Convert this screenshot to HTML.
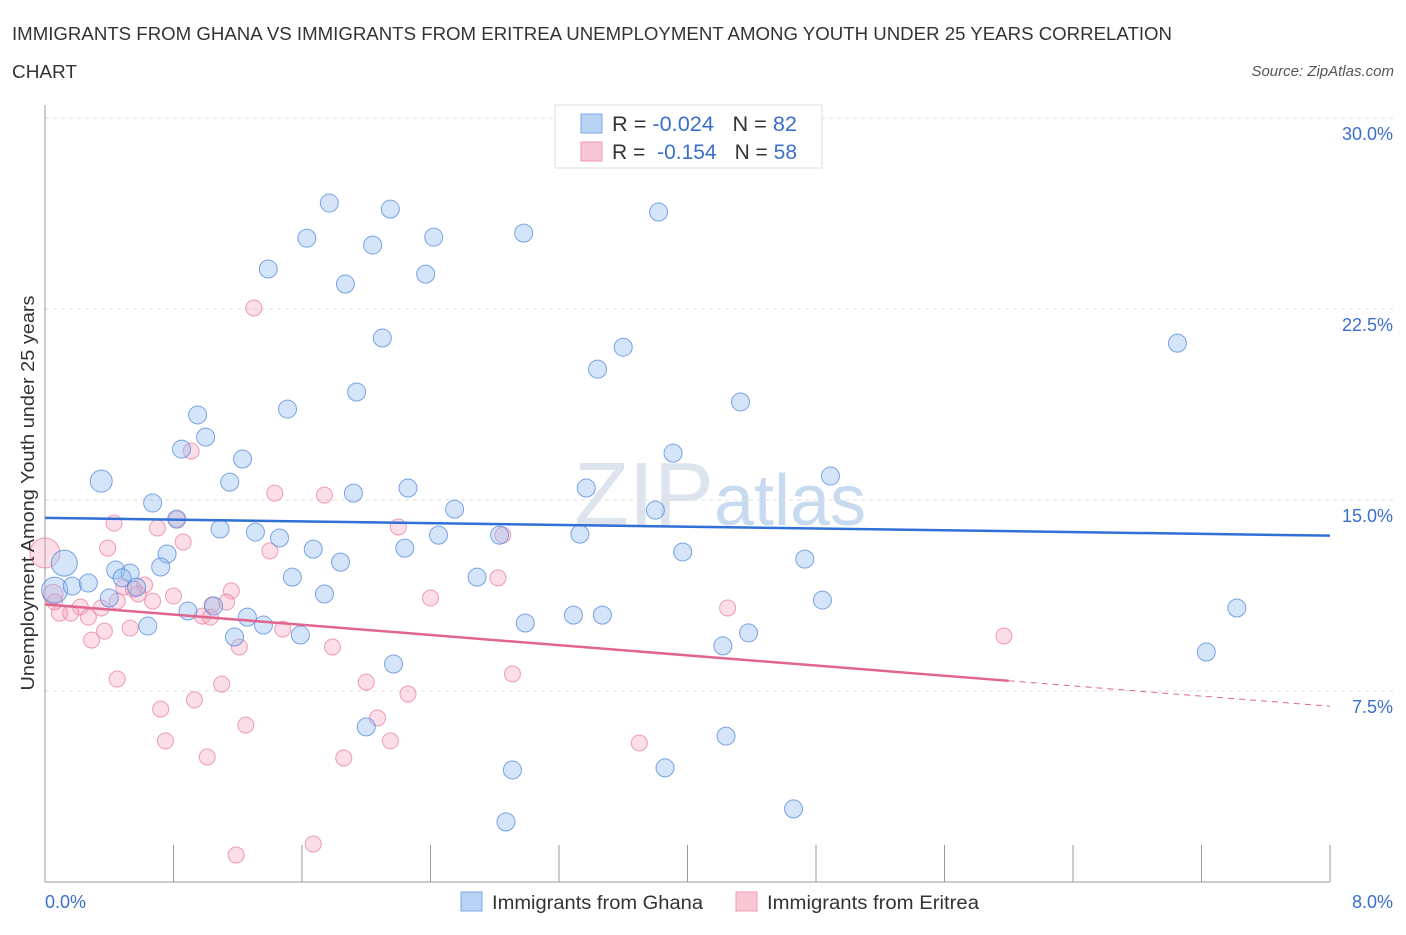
<!DOCTYPE html>
<html><head><meta charset="utf-8"><style>
body{margin:0;background:#fff;font-family:"Liberation Sans",sans-serif;}
svg text{font-family:"Liberation Sans",sans-serif;}
</style></head><body>
<svg id="chart" width="1406" height="930" xmlns="http://www.w3.org/2000/svg">
<text x="12" y="40" font-size="18" fill="#333" textLength="1160" lengthAdjust="spacingAndGlyphs">IMMIGRANTS FROM GHANA VS IMMIGRANTS FROM ERITREA UNEMPLOYMENT AMONG YOUTH UNDER 25 YEARS CORRELATION</text>
<text x="12" y="78" font-size="18" fill="#333" textLength="65" lengthAdjust="spacingAndGlyphs">CHART</text>
<text x="1394" y="76" font-size="15" fill="#555" font-style="italic" text-anchor="end">Source: ZipAtlas.com</text>
<text x="720" y="525" font-size="90" fill="#dde4ee" text-anchor="middle" font-family="Liberation Serif">ZIP<tspan fill="#c8daf0" font-family="Liberation Sans" font-size="72">atlas</tspan></text>
<g id="grid"></g>
<g id="axes"></g>
<g id="marks"></g>
<g>
<rect x="555" y="105" width="267" height="63" fill="#fff" stroke="#ddd"/>
<rect x="581" y="114" width="21" height="19" fill="#b9d3f5" stroke="#7aa7e6"/>
<rect x="581" y="142" width="21" height="19" fill="#f9c6d5" stroke="#ee99b3"/>
<text x="612" y="131" font-size="21" fill="#333" textLength="185" lengthAdjust="spacingAndGlyphs">R = <tspan fill="#3a6fcf">-0.024</tspan><tspan dx="18">N = </tspan><tspan fill="#3a6fcf">82</tspan></text>
<text x="612" y="159" font-size="21" fill="#333" textLength="185" lengthAdjust="spacingAndGlyphs">R = <tspan dx="6" fill="#3a6fcf">-0.154</tspan><tspan dx="18">N = </tspan><tspan fill="#3a6fcf">58</tspan></text>
</g>
<g>
<rect x="461" y="892" width="21" height="19" fill="#b9d3f5" stroke="#7aa7e6"/>
<text x="492" y="909" font-size="19" fill="#333" textLength="211" lengthAdjust="spacingAndGlyphs">Immigrants from Ghana</text>
<rect x="736" y="892" width="21" height="19" fill="#f9c6d5" stroke="#ee99b3"/>
<text x="767" y="909" font-size="19" fill="#333" textLength="212" lengthAdjust="spacingAndGlyphs">Immigrants from Eritrea</text>
</g>
<text transform="translate(34,493) rotate(-90)" font-size="18" fill="#333" text-anchor="middle" textLength="395" lengthAdjust="spacingAndGlyphs">Unemployment Among Youth under 25 years</text>
</svg>
<script>
const yTicks=[7.5,15,22.5,30];
const yTickLabels=["7.5%","15.0%","22.5%","30.0%"];
const xTickCount=10;
const xMin=0,xMax=8,yMin=0,yMax=30;
const ghanaX=[1.77,2.15,1.63,2.04,2.42,2.98,3.82,1.39,1.87,2.37,2.10,3.60,3.44,7.05,1.94,4.33,1.51,0.95,1.00,0.85,1.23,3.91,0.35,1.15,4.89,0.67,1.92,2.26,3.37,2.55,3.80,0.82,1.09,1.31,1.46,2.45,2.83,3.33,1.67,2.24,0.76,3.97,1.84,4.73,0.44,0.53,0.72,1.54,2.69,0.48,0.12,0.06,0.17,0.27,0.57,0.40,1.74,4.84,0.89,1.05,1.26,1.36,0.64,1.18,1.59,2.99,3.29,3.47,7.42,4.38,4.22,7.23,2.17,2.00,4.24,2.91,3.86,4.66,2.87];
const ghanaY=[26.66,26.42,25.28,25.01,25.32,25.48,26.31,24.07,23.48,23.87,21.36,21.00,20.14,21.16,19.24,18.85,18.57,18.34,17.47,17.00,16.61,16.84,15.74,15.70,15.94,14.88,15.27,15.47,15.47,14.64,14.60,14.25,13.86,13.74,13.51,13.62,13.62,13.66,13.07,13.11,12.88,12.96,12.56,12.68,12.25,12.13,12.37,11.97,11.97,11.94,12.52,11.46,11.62,11.74,11.58,11.15,11.31,11.07,10.64,10.84,10.40,10.09,10.05,9.62,9.70,10.17,10.48,10.48,10.76,9.78,9.27,9.03,8.56,6.09,5.73,4.40,4.48,2.87,2.36];
const ghanaSize=[9,9,9,9,9,9,9,9,9,9,9,9,9,9,9,9,9,9,9,9,9,9,11,9,9,9,9,9,9,9,9,9,9,9,9,9,9,9,9,9,9,9,9,9,9,9,9,9,9,9,13,13,9,9,9,9,9,9,9,9,9,9,9,9,9,9,9,9,9,9,9,9,9,9,9,9,9,9,9];
const eritreaX=[1.30,0.91,1.43,1.74,0.43,0.82,0.70,2.20,2.85,0.86,0.39,1.40,0.00,2.82,0.62,0.49,0.80,1.16,0.58,0.67,2.40,0.45,1.13,0.22,0.35,1.04,0.16,0.98,0.27,0.09,1.03,0.53,1.48,0.37,0.29,4.25,5.97,1.21,1.79,2.91,0.45,1.10,2.00,2.26,0.93,0.72,2.07,1.25,0.75,2.15,3.70,1.01,1.86,1.19,1.67,0.05,0.06,0.55];
const eritreaY=[22.54,16.92,15.27,15.19,14.09,14.25,13.90,13.94,13.62,13.35,13.11,13.00,12.92,11.94,11.66,11.58,11.23,11.43,11.31,11.03,11.15,11.03,10.99,10.80,10.76,10.88,10.56,10.44,10.40,10.56,10.40,9.97,9.93,9.85,9.50,10.76,9.66,9.23,9.23,8.17,7.97,7.77,7.85,7.38,7.15,6.79,6.44,6.16,5.54,5.54,5.46,4.91,4.87,1.06,1.49,11.3,11.0,11.5];
const eritreaSize=[8,8,8,8,8,8,8,8,8,8,8,8,15,8,8,8,8,8,8,8,8,8,8,8,8,8,8,8,8,8,8,8,8,8,8,8,8,8,8,8,8,8,8,8,8,8,8,8,8,8,8,8,8,8,8,10,8,8];
const ghanaTrend=[14.3,13.6];
const eritreaTrend=[10.9,7.9,6.9];
const eritreaSolidEnd=6.0;

const X0=45,X1=1330,Y0=882,Y1=118;
const sx=v=>X0+(v-xMin)/(xMax-xMin)*(X1-X0);
const sy=v=>Y0-(v-yMin)/(yMax-yMin)*(Y0-Y1);
const NS="http://www.w3.org/2000/svg";
function mk(tag,attrs,parent){const e=document.createElementNS(NS,tag);for(const k in attrs)e.setAttribute(k,attrs[k]);parent.appendChild(e);return e;}
const grid=document.getElementById('grid'),axes=document.getElementById('axes'),marks=document.getElementById('marks');
yTicks.forEach((t,i)=>{
 const l=mk('line',{x1:X0,x2:1395,y1:sy(t),y2:sy(t),stroke:'#ddd','stroke-dasharray':'4,4'},grid);
 
 
 const tx=mk('text',{x:1393,y:sy(t)+22,'font-size':18,fill:'#3a6fcf','text-anchor':'end'},axes);
 tx.textContent=yTickLabels[i];
 
 
});
const ya=mk('line',{x1:X0,x2:X0,y1:105,y2:Y0,stroke:'#999'},axes);


const xa=mk('line',{x1:X0,x2:X1,y1:Y0,y2:Y0,stroke:'#999'},axes);


for(let i=0;i<=xTickCount;i++){
 const v=xMin+i*(xMax-xMin)/xTickCount;
 const t=mk('line',{x1:sx(v),x2:sx(v),y1:845,y2:Y0,stroke:'#999'},axes);
 
 
}
const xl0=mk('text',{x:45,y:908,'font-size':18,fill:'#3a6fcf'},axes);xl0.textContent='0.0%';


const xl1=mk('text',{x:1393,y:908,'font-size':18,fill:'#3a6fcf','text-anchor':'end'},axes);xl1.textContent='8.0%';



eritreaX.forEach((x,i)=>{
 const c=mk('circle',{cx:sx(x),cy:sy(eritreaY[i]),r:eritreaSize[i],fill:'rgba(244,160,186,0.35)',stroke:'rgba(232,120,155,0.7)','stroke-width':1},marks);
 
 
});
ghanaX.forEach((x,i)=>{
 const c=mk('circle',{cx:sx(x),cy:sy(ghanaY[i]),r:ghanaSize[i],fill:'rgba(150,190,240,0.4)',stroke:'rgba(80,135,220,0.75)','stroke-width':1},marks);
 
 
});
const gl=mk('line',{x1:sx(xMin),y1:sy(ghanaTrend[0]),x2:sx(xMax),y2:sy(ghanaTrend[1]),stroke:'#2f6fd6','stroke-width':2.5},marks);


const el=mk('line',{x1:sx(xMin),y1:sy(eritreaTrend[0]),x2:sx(eritreaSolidEnd),y2:sy(eritreaTrend[1]),stroke:'#e0668f','stroke-width':2.5},marks);


const ed=mk('line',{x1:sx(eritreaSolidEnd),y1:sy(eritreaTrend[1]),x2:sx(xMax),y2:sy(eritreaTrend[2]),stroke:'#e0668f','stroke-width':1,'stroke-dasharray':'6,5'},marks);


</script>
</body></html>
